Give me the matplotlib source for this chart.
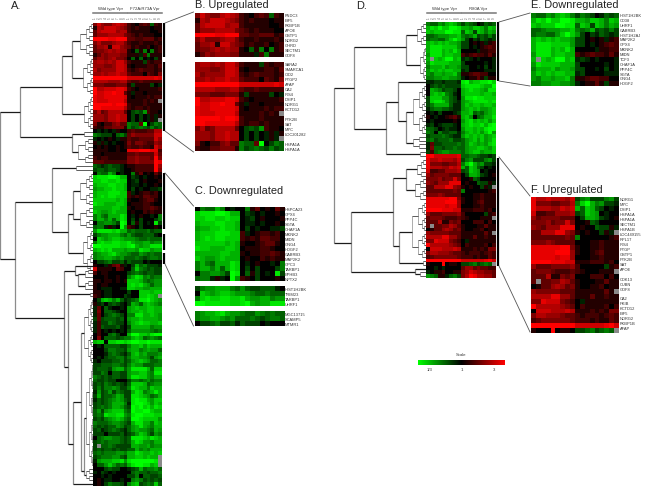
import numpy as np
import matplotlib
matplotlib.use("Agg")
import matplotlib.pyplot as plt
from matplotlib.colors import LinearSegmentedColormap

plt.rcParams['font.family'] = ['Liberation Sans', 'DejaVu Sans']

W, H = 655, 489

# cell codes: 0-9 = red strength, a-i = green strength, x = missing
B1 = ["475446765 210232c21", "165777654 212111011", "367777566 211111001",
      "355566664 321211100", "999988999 332233312", "464445664 211211121",
      "355617754 312112012", "344565655 10c1d0d12", "135455544 111a2d111"]
A_R9 = ["355456443 0c0c0a0b1"]
B2 = ["566565775 2111b2122", "555445776 101112213", "645555776 212322212",
      "556566766 322203214", "999999999 777777787", "666655566 322322222",
      "444333444 1b1111b0a", "966777887 210111112", "977889883 1a1101111",
      "877888887 101112122", "877788886 11112121x", "999998998 211121111",
      "998888886 212212111", "463466663 0bcbe2110", "555466766 0b0b0a1a1",
      "555466766 0b0b0a1ax", "410224533 dcc3i0bdc", "211334441 dbcdcbdbc"]
A_R28 = ["0a0a0a100 232223366", "dcbbb0cdb 354444477", "a0a010a11 322333375",
         "1a1a0a001 424432254", "010100101 322322175", "111100100 888999882",
         "110111111 334333373", "212211111 445444394", "333222222 445444498",
         "cbabcbba0 112222295", "bccbccba0 012222294"]
C1 = ["0dccfd0a0 0d1301031", "ghhhiihff 0ba0a0010", "gghhgghgg 0ab010001",
      "fggghhggf 0aa0a0010", "effgghggf 0b0a00aab", "fggghhhgg 2a0122120",
      "fghghhggg 212133220", "ggggggfgf 100123310", "hggfffggf 011122100",
      "fffffggff 101122321", "gfeefgfff 010021211", "dfdcfffhg 0a0100a0d",
      "dffdfcfhg 0b0b000bd", "0ddeedbih 0c1b0a0hb", "cdda1a0ie 210b00010"]
A_R54 = ["ehhhhghff cdcccdbcc"]
C2 = ["bdeefffdc ecbbccca0", "0gfefggfe eedccdccc", "dghgghhgg hfeeffdee",
      "iihhhhhgg hifeffhhh"]
A_R59 = ["fghghfffe ffehggeff"]
C3 = ["deffghfee dccedcdcc", "deeffedec ccdcbcddc", "0bbcdbbca cbbb0a000"]
A_R63 = ["100a1341a 0bfcdbbba", "711110320 0cgdcbcbb", "201100000 bcdcbccbb",
         "000100100 dfhgdecdd", "110110101 gggfdcdee", "101100000 ghghfecee",
         "10aaa00aa ggffeefff", "110aa0000 b00gggfgg", "210aa000b a00gghgfx",
         "0bfgfdfca bcdhhigfe", "1ab0bcba0 bfecfgfed", "a30ca00a0 efgffggff",
         "a40ccba00 effgfggff", "a30bcdcb0 ddhhffgfe", "b3bcccbc0 effgffffe",
         "a2bbdcbb0 dfghggffg", "a2cbbbca0 bfffffdee", "a20a0a0a0 ceeeeedcd",
         "0200cdb00 fiiggfhii", "040cccbcd dfgfcdedc", "fgg0gghhg hiihhihhh",
         "0a0ccccbb dffgegfff", "000bddccb effdefeec", "000acdcba cfgefddde",
         "0a0bccddb dffeedbef", "a0bbbccdb cefgfeccd", "bbcccddcb dfeecccdd",
         "bcccbeffc ehhhhfcgg", "bbdc0ccbb effggedhh", "dcbcbccbb ehhggedff",
         "cbbcbb000 bddcdecdd", "bcbdcbcba cgggfcdee", "bdbddedbb dhgffdgff",
         "aebcebdcb bfhgdefhf", "bfbccdfeb bhhgfecdf", "acbcdefec bhihhfegg",
         "bcbcdfffd ahiihgegf", "bcdcdffec bihighfhg", "cebefgggd cihhiigff",
         "cdchgghhe dhiihhhgg", "bcbdefgfd ciihgggge", "dcccdeedc bfhhffdgf",
         "cbcbccedb cefhfedff", "bcabcdcba cefeedcfe", "bbb0bbbca bcegfdbed",
         "0cdeeddcb chhhgfhgf", "bcdcdddcb cfhgeedff", "bxccdcbbb bffeefdee",
         "bcbccbcbb ccfdedfff", "cdcdddeed ffhgffgfg", "bcdddeecb ffggfgffx",
         "aefffgghe hiiiiiihx", "0ccegecdc fhiihhfgx", "000bcbb00 abcfcddec",
         "a0ba0a000 0cdccbccd", "00a0a0000 bbd0ccbbc", "010aa00a0 0dedbcbcb",
         "010bdccb0 dfgbcdcgc"]

E = ["dccedfgfd bdcb0acbc", "fhgiggiih ffeggfdgf", "gfgggiihh cgfbgfdfe",
     "ccdeeeffg dcdfbcbdb", "cddccegig eb0bacbab", "fgfgfgffe bb0101a12",
     "fhhhgggge bb0a01232", "fhhhfgfhf 0000a1122", "ehhhfggff 212322131",
     "fxgfgiifg aba0a000a", "ehggggfff b00000a0a", "dfffgeffe bb00a0b0a",
     "egfgfggff ab0000aaa", "edffeffgd 112332200", "ddeeffeed a01131b11"]
D_R15 = ["aabbabbba hifgghhig", "0bcbcbbbb ghhhhgffi", "0fedbccb0 fghggfehh",
         "0fgfgdca0 fggggfggf", "bgggeecb0 ehhihhggg", "bghhgecba efghhhhgh",
         "bdffffcaa egfggfggf", "acddccbaa efgfgeefg", "0a0b000ab ffgcdcefg",
         "10a001231 fge0cdffh", "0a0000010 eghfgfgeg", "ab0abbba0 fghgghfhi",
         "ccb0abaa0 eggfgfhii", "dc0dbbcca dfgfgegie", "bcccdcbaa egfgfgefg",
         "cdbcccdbb cefgegefh", "a3bbccccd cegfefegh", "a4ccbccdc ceffggfeg",
         "b2cdeeddd cefggeffg"]
D_R34 = ["997777778 ccddcbbab"]
F = ["866766657 bdebbbdeb", "844433446 dgifdebba", "866655767 fcgfcb0a0",
     "722335556 bcgfe0a00", "534444333 0bffeba01", "444534474 001cb0000",
     "543555888 0100cbb1a", "336668854 10100b1ax", "333333343 d00000012",
     "444543333 000112111", "888888994 100112111", "888889995 100123111",
     "888887885 000112111", "999988877 111222120", "533344445 200000b12",
     "344432223 21000111x", "333611434 000222020", "3x3344653 100011311",
     "013356534 100112011", "544444333 11111131x", "666688553 111311211",
     "448777432 0a1111111", "966666543 021111202", "077766676 111212144",
     "466555433 212221232", "234444443 222121132", "999999999 777777897",
     "100090110 bbcdbcdcx"]
D_R63 = ["00a0a0000 355343322", "a01120011 457655443", "edc11acdb 469866553"]

A_ROWS = B1 + A_R9 + B2 + A_R28 + C1 + A_R54 + C2 + A_R59 + C3 + A_R63
D_ROWS = E + D_R15 + D_R34 + F + D_R63

B_GENES1 = ["FNDC3", "EIF5", "FKBP1B", "APOE", "GSTP1", "NDRG2", "GHRD", "SECTM1", "GDF8"]
B_GENES2 = ["SARA2", "SMARCA1", "CID2", "PTGP2", "AFAP", "CA2", "IRS4", "DSIP1", "NDRG1",
            "KCTD12", "PTK2B", "SAT", "MYC", "LOC201282", "HSPA1A", "HSPA1A"]
B_ROWS2 = [0, 1, 2, 3, 4, 5, 6, 7, 8, 9, 11, 12, 13, 14, 16, 17]
C_GENES1 = ["HSPCA23", "GPX4", "PPP4C", "SGTA", "CHAF1A", "MKNK2", "MIDN", "GNG4",
            "HDGF2", "GABRB3", "MAP2K2", "GPC3", "TARBP1", "EPHB3", "NPTX2"]
C_GENES2 = ["HIST1H2BK", "TRIM23", "TARBP1", "UHRF1"]
C_GENES3 = ["MGC13715", "SCAMP5", "MTMR1"]
E_GENES = ["HIST1H2BK", "CD38", "UHRF1", "GABRB3", "HIST1H2AJ", "MAP2K2", "GPX4", "MKNK2",
           "MIDN", "TCF3", "CHAF1A", "PPP4C", "SGTA", "GNG4", "HDGF2"]
F_GENES = ["NDRG1", "MYC", "DSIP1", "HSPA1A", "HSPA1A", "SECTM1", "HSPA1B", "LOC449155",
           "RPL17", "IRS4", "PTGP", "GSTP1", "PTK2B", "SAT", "APOE", "CDK13", "CUBN", "GDF8",
           "CA2", "PKIB", "KCTD12", "EIF5", "NDRG2", "FKBP1B", "AFAP"]
F_LABEL_ROWS = [0.48, 1.5, 2.53, 3.56, 4.59, 5.62, 6.64, 7.67, 8.7, 9.73, 10.75, 11.78, 12.8,
                13.84, 14.86, 16.85, 17.88, 18.9, 20.9, 21.9, 22.95, 23.97, 25, 26, 27.05]
COL_LABELS = ["1", "2", "3", "4", "5", "6", "7", "8", "9"]

# dendrograms: (height, stem row, upper, lower) or (height, first row, last row)
A_TREE = (0, 40,
          (20, 23.4,
           (62, 16.8, (72, 8.7, (80, 0, 8), (83, 9, 18)), (84, 19, 27)),
           (72, 29.9, (84, 28, 29), (78, 30, 36))),
          (15, 61.7,
           (52, 46.8, (76, 37, 38),
            (68, 54.7, (73, 50, (80, 39, 47), (80, 48, 53)), (83, 54, 64))),
           (64, 77.2,
            (75, 64.8, (92, 63, 63), (78, 66, (85, 64, 66), (85, 67, 69))),
            (68, 89.9, (90, 70, 71),
             (73, 110,
              (81, 99.1, (84, 72, 88), (84, 117, (86, 89, 115), (86, 116, 119))),
              (92, 120, 120))))))
D_TREE = (334.3, 35,
          (354, 17,
           (406, 6.4, (417, 0, 5), (420, 6, 14)),
           (386, 27.5,
            (398, 20.5, (426, 15, 15), (406, 25.4, (413, 16, 28), (413, 29, 32))),
            (420, 33, 34))),
          (351, 56.9,
           (393, 48.8,
            (405.7, 40.2, (417, 35, 39), (415, 40, 45)),
            (399, 57.7, (412, 46, 60), (423, 61, 62))),
           (415, 64.4, (426, 63, 63), (420, 64, 65))))

GREEN_CODES = "abcdefghi"
cmap = LinearSegmentedColormap.from_list("gbr", ["#00ff00", "#000000", "#ff0000"])
cmap.set_bad("#8a8a8a")


def to_matrix(rows):
    out = []
    for row in rows:
        row = row.replace(" ", "").ljust(18, "0")[:18]
        vals = []
        for c in row:
            if c == "x":
                vals.append(np.nan)
            elif c in GREEN_CODES:
                vals.append(-(GREEN_CODES.index(c) + 1) / 9)
            else:
                vals.append(int(c) / 9)
        out.append(vals)
    m = np.array(out)
    # the published map is a little brighter in the middle range
    return np.sign(m) * np.abs(m) ** 0.9


def px_axes(x0, y0, x1, y1):
    return fig.add_axes([x0 / W, 1 - y1 / H, (x1 - x0) / W, (y1 - y0) / H])


def heat(rows, x0, y0, x1, y1):
    ax = px_axes(x0, y0, x1, y1)
    ax.imshow(to_matrix(rows), cmap=cmap, vmin=-1, vmax=1, aspect="auto",
              interpolation="nearest", extent=(0, 18, len(rows), 0))
    ax.axis("off")
    return ax


def draw_tree(ax, node, leaf_x):
    if len(node) == 3:
        h, r0, r1 = node
        if r0 == r1:
            return leaf_x, r0 + 0.5
        mid = (r0 + r1) // 2
        nh = h + (leaf_x - h) * 0.45
        a = draw_tree(ax, (nh, r0, mid), leaf_x)
        b = draw_tree(ax, (nh, mid + 1, r1), leaf_x)
        stem = (a[1] + b[1]) / 2
        lw_v, lw_h = 0.5, 0.5
    else:
        h, stem, up, low = node
        a = draw_tree(ax, up, leaf_x)
        b = draw_tree(ax, low, leaf_x)
        lw_v, lw_h = 0.9, 0.9
    ax.plot([h, h], [a[1], b[1]], color="#8c8c8c", lw=lw_v, solid_capstyle="butt")
    ax.plot([h, a[0]], [a[1], a[1]], color="#1c1c1c", lw=lw_h, solid_capstyle="butt")
    ax.plot([h, b[0]], [b[1], b[1]], color="#1c1c1c", lw=lw_h, solid_capstyle="butt")
    return h, stem


def tree_axes(tree, x0, x1, y0, y1, nrows):
    ax = px_axes(x0, y0, x1, y1)
    ax.set_xlim(x0, x1)
    ax.set_ylim(nrows, 0)
    ax.axis("off")
    draw_tree(ax, tree, x1)


def gene_labels(names, rows, x, y0, y1, nrows):
    for name, r in zip(names, rows):
        top.text(x, y0 + (y1 - y0) * r / nrows, name, fontsize=2.9, color="#333333",
                 va="center", ha="left")


def group_header(x0, xm, x1, name1, name2):
    top.plot([x0, xm - 0.7], [14, 14], color="#777777", lw=1.1)
    top.plot([xm + 0.7, x1], [14, 14], color="#777777", lw=1.1)
    top.text((x0 + xm) / 2 + 0.5, 9, name1, fontsize=3.1, color="#333333", ha="center", va="center")
    top.text((xm + x1) / 2, 9, name2, fontsize=3.1, color="#333333", ha="center", va="center")
    step = (x1 - x0) / 18
    for i in range(18):
        top.text(x0 + (i + 0.5) * step, 18.5, COL_LABELS[i % 9], fontsize=2.2, color="#555555",
                 rotation=90, ha="center", va="center")


fig = plt.figure(figsize=(W / 100, H / 100), dpi=100)

# main heatmaps and trees
heat(A_ROWS, 92.7, 23.5, 161.7, 487)
tree_axes(A_TREE, 0, 92.7, 23.5, 487, len(A_ROWS))
heat(D_ROWS, 426, 23.3, 496, 279.3)
tree_axes(D_TREE, 330, 426, 23.3, 279.3, len(D_ROWS))

# zoomed panels
heat(B1, 194.7, 14, 283.3, 58)
heat(B2, 194.7, 63, 283.3, 152)
heat(C1, 194.7, 207.7, 284, 282.3)
heat(C2, 194.7, 287.3, 284, 307.3)
heat(C3, 194.7, 312.3, 284, 327.3)
heat(E, 530.7, 13.7, 618.3, 86.7)
heat(F, 530.7, 197.7, 618.3, 334)

# colour scale
sc = px_axes(417.7, 361, 504.3, 365.7)
sc.imshow(np.linspace(-1, 1, 256)[None, :], cmap=cmap, aspect="auto", vmin=-1, vmax=1)
sc.axis("off")

# overlay in pixel coordinates for text and brackets
top = fig.add_axes([0, 0, 1, 1])
top.set_xlim(0, W)
top.set_ylim(H, 0)
top.axis("off")
top.patch.set_alpha(0)

group_header(92.7, 127.5, 161.7, "Wild type Vpr", "F72A/R73A Vpr")
group_header(426.7, 461.3, 495.7, "Wild type Vpr", "R80A Vpr")

for x, y, s in [(11, 6, "A."), (356, 6, "D."), (195, 5.5, "B. Upregulated"),
                (195, 190.7, "C. Downregulated"), (531, 5, "E. Downregulated"),
                (531, 190, "F. Upregulated")]:
    top.text(x, y, s, fontsize=7.9, color="#222222", va="center", ha="left")

gene_labels(B_GENES1, [r + 0.5 for r in range(9)], 285, 14, 58, 9)
gene_labels(B_GENES2, [r + 0.5 for r in B_ROWS2], 285, 63, 152, 18)
gene_labels(C_GENES1, [r + 0.5 for r in range(15)], 285, 207.7, 282.3, 15)
gene_labels(C_GENES2, [r + 0.5 for r in range(4)], 285, 287.3, 307.3, 4)
gene_labels(C_GENES3, [r + 0.5 for r in range(3)], 285, 312.3, 327.3, 3)
gene_labels(E_GENES, [r + 0.5 for r in range(15)], 620, 13.7, 86.7, 15)
gene_labels(F_GENES, F_LABEL_ROWS, 620, 197.7, 334, 28)

# black bars marking the selected clusters
for x, y0, y1 in [(164, 24, 58), (164, 63, 132), (164, 174, 230), (164, 235, 251),
                  (164, 254, 265), (497.8, 23, 81.7), (497.8, 159, 266.7)]:
    top.plot([x, x], [y0, y1], color="black", lw=1.6, solid_capstyle="butt")

# lines from clusters to zoomed panels
for x0, y0, x1, y1 in [(165, 24, 193.5, 13), (165, 132, 193.5, 153), (165, 174, 193.5, 207),
                       (165, 265, 193.5, 327), (499, 23, 530, 14), (499, 82, 530, 87),
                       (499, 158, 530, 197), (499, 267, 530, 333)]:
    top.plot([x0, x1], [y0, y1], color="#555555", lw=0.6)

top.text(461, 355, "Scale", fontsize=3.1, color="#333333", ha="center", va="center")
for x, s in [(430, "1/3"), (461.7, "1"), (494, "3")]:
    top.text(x, 370, s, fontsize=3.1, color="#333333", ha="center", va="center")

fig.savefig("out.png", dpi=100)
